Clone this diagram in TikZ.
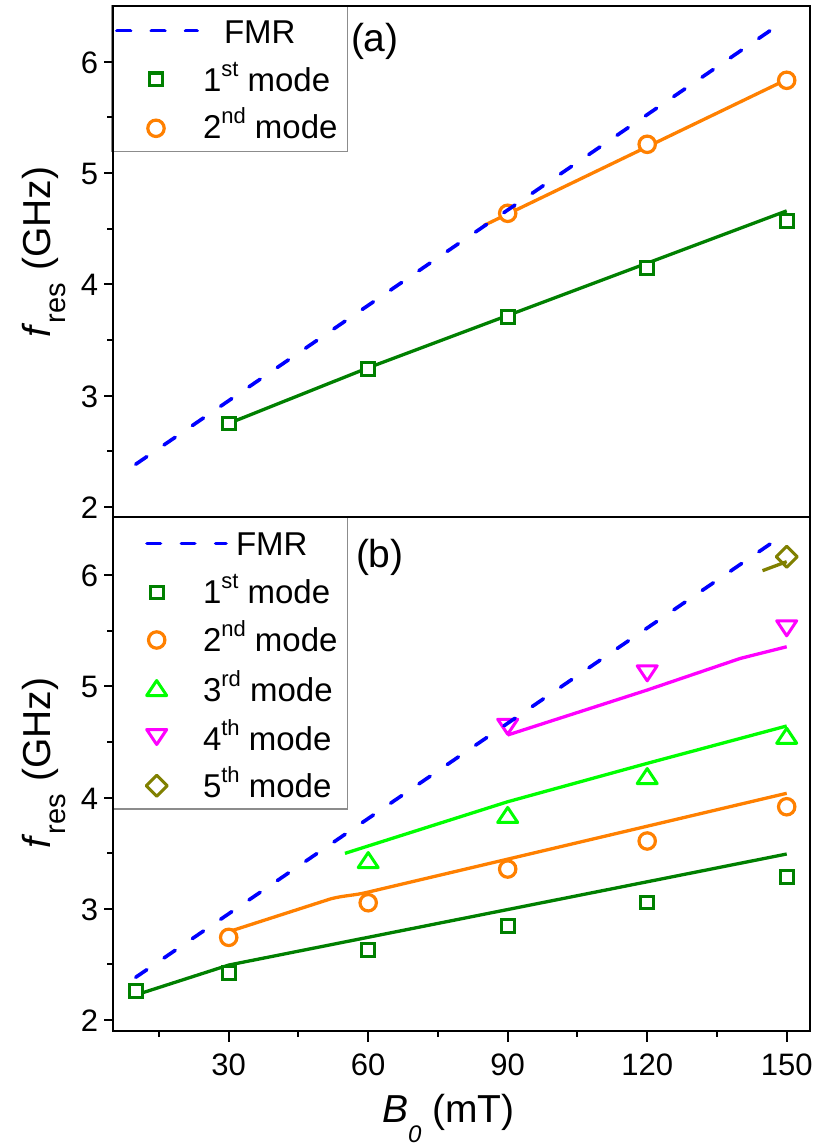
\documentclass[tikz,border=0pt]{standalone}
\usepackage{fontspec}
\setmainfont{Liberation Sans}
\definecolor{dkgreen}{RGB}{0,128,0}
\definecolor{orng}{RGB}{255,128,0}
\definecolor{limeg}{RGB}{0,255,0}
\definecolor{mgnt}{RGB}{255,0,255}
\definecolor{olv}{RGB}{128,128,0}
\definecolor{fmrblue}{RGB}{0,0,255}
\newcommand\supx[1]{\raisebox{15pt}{\fontsize{22}{22}\selectfont #1}}
\tikzset{
  fmrline/.style={fmrblue, line width=3.6pt, dash pattern=on 13.5pt off 20.8pt, line cap=round},
  fitline/.style={line width=3.3pt, line join=round},
  axisline/.style={line width=2.2pt, black},
  tickline/.style={line width=2pt, black},
  legbox/.style={draw=black!45, line width=1.3pt, fill=white},
  ticklab/.style={font=\fontsize{31}{31}\selectfont},
  legtext/.style={font=\fontsize{33}{33}\selectfont},
  axlab/.style={font=\fontsize{39}{39}\selectfont},
  msq/.pic={\draw[dkgreen, line width=3pt, fill=white] (-6.3pt,-6.3pt) rectangle (6.3pt,6.3pt);},
  mci/.pic={\draw[orng, line width=3.2pt, fill=white] (0pt,0pt) circle[radius=8.2pt];},
  mtu/.pic={\draw[limeg, line width=3pt, fill=white, line join=round] (-10pt,-7.5pt) -- (10pt,-7.5pt) -- (0pt,7.5pt) -- cycle;},
  mtd/.pic={\draw[mgnt, line width=3pt, fill=white, line join=round] (-10pt,7.5pt) -- (10pt,7.5pt) -- (0pt,-7.5pt) -- cycle;},
  mdi/.pic={\draw[olv, line width=3pt, line join=round] (0pt,10.5pt) -- (10.5pt,0pt) -- (0pt,-10.5pt) -- (-10.5pt,0pt) -- cycle;}
}
\begin{document}
\begin{tikzpicture}[x=1pt,y=-1pt, every node/.style={inner sep=0pt, outer sep=0pt}]
\useasboundingbox (0,0) rectangle (822,1148);
\fill[white] (0,0) rectangle (822,1148);

% ---------------- panel (a) data ----------------
\begin{scope}[shift={(89.2pt,-729.5pt)}, x=4.65pt, y=111.3pt]
  \draw[fitline, dkgreen] (30,2.75) -- (60,3.25) -- (90,3.72) -- (120,4.19) -- (150,4.66);
  \draw[fitline, orng] (84.8,4.527) -- (150,5.84);
  \foreach \b/\f in {30/2.751,60/3.24,90/3.706,120/4.146,150/4.571} {\pic at (\b,\f) {msq};}
  \foreach \b/\f in {90/4.638,120/5.258,150/5.833} {\pic at (\b,\f) {mci};}
  \draw[fmrline] (10,2.383) -- (150,6.381);
\end{scope}

% ---------------- panel (b) data ----------------
\begin{scope}[shift={(89.2pt,-1242.5pt)}, x=4.65pt, y=111.25pt]
  \draw[fitline, dkgreen] (10,2.225) -- (30,2.494) -- (150,3.492);
  \draw[fitline, orng] (30,2.794) -- (52,3.09) to[out=14,in=194] (60,3.15) -- (150,4.038);
  \draw[fitline, limeg] (55,3.498) -- (90,3.962) -- (120,4.307) -- (150,4.643);
  \draw[fitline, mgnt] (90,4.562) -- (120,4.966) -- (140,5.25) -- (150,5.355);
  \foreach \b/\f in {10/2.263,30/2.420,60/2.629,90/2.845,120/3.058,150/3.288} {\pic at (\b,\f) {msq};}
  \foreach \b/\f in {30/2.743,60/3.054,90/3.357,120/3.609,150/3.917} {\pic at (\b,\f) {mci};}
  \foreach \b/\f in {60/3.438,90/3.843,120/4.193,150/4.555} {\pic at (\b,\f) {mtu};}
  \foreach \b/\f in {90/4.636,120/5.116,150/5.521} {\pic at (\b,\f) {mtd};}
  \pic at (150,6.164) {mdi};
  \draw[fitline, olv] (144.8,6.039) -- (150,6.12);
  \draw[fmrline] (10,2.384) -- (150,6.380);
\end{scope}

% ---------------- legend (a) ----------------
\draw[legbox] (112,6) rectangle (347.7,151.7);
\draw[fmrline] (117,30.7) -- (197,30.7);
\node[legtext, anchor=base west] (la0) at (224,43.3) {FMR};
\pic at (156,79.3) {msq};
\node[legtext, anchor=base west] (la1) at (203,91) {1\supx{st} mode};
\pic at (156,128.3) {mci};
\node[legtext, anchor=base west] (la2) at (203,138.3) {2\supx{nd} mode};
\node[axlab, anchor=base west] (pa) at (351,52) {(a)};

% ---------------- legend (b) ----------------
\draw[legbox] (113,517) rectangle (347.7,809);
\draw[fmrline] (147,543.3) -- (226,543.3);
\node[legtext, anchor=base west] (lb0) at (236,555.7) {FMR};
\pic at (156.7,592.3) {msq};
\node[legtext, anchor=base west] (lb1) at (203,603.3) {1\supx{st} mode};
\pic at (156.7,640) {mci};
\node[legtext, anchor=base west] (lb2) at (203,651.7) {2\supx{nd} mode};
\pic at (156.7,688) {mtu};
\node[legtext, anchor=base west] (lb3) at (203,701.7) {3\supx{rd} mode};
\pic at (156.7,737) {mtd};
\node[legtext, anchor=base west] (lb4) at (203,750) {4\supx{th} mode};
\pic at (156.7,785.7) {mdi};
\node[legtext, anchor=base west] (lb5) at (203,797.3) {5\supx{th} mode};
\node[axlab, anchor=base west] (pb) at (356,567) {(b)};

% ---------------- frames ----------------
\draw[axisline] (113,6) rectangle (810,517);
\draw[axisline] (113,517) rectangle (810,1031);

% ---------------- y ticks (a) ----------------
\foreach \f in {2,...,6} {
  \pgfmathsetmacro\py{729.5-111.3*\f}
  \draw[tickline] (104,\py) -- (113,\py);
  \node[ticklab, anchor=base east] (ya\f) at (98,\py+11.5) {\f};
}
\foreach \f in {2.5,3.5,4.5,5.5} {
  \pgfmathsetmacro\py{729.5-111.3*\f}
  \draw[tickline] (107,\py) -- (113,\py);
}
% ---------------- y ticks (b) ----------------
\foreach \f in {2,...,6} {
  \pgfmathsetmacro\py{1242.5-111.25*\f}
  \draw[tickline] (104,\py) -- (113,\py);
  \node[ticklab, anchor=base east] (yb\f) at (98,\py+11.5) {\f};
}
\foreach \f in {2.5,3.5,4.5,5.5} {
  \pgfmathsetmacro\py{1242.5-111.25*\f}
  \draw[tickline] (107,\py) -- (113,\py);
}
% ---------------- x ticks ----------------
\foreach \b in {30,60,90,120,150} {
  \pgfmathsetmacro\px{89.2+4.65*\b}
  \draw[tickline] (\px,1031) -- (\px,1042);
  \node[ticklab, anchor=base] (xt\b) at (\px,1075) {\b};
}
\foreach \b in {15,45,75,105,135} {
  \pgfmathsetmacro\px{89.2+4.65*\b}
  \draw[tickline] (\px,1031) -- (\px,1037);
}

% ---------------- axis labels ----------------
\node[axlab, rotate=90, anchor=base] (yla) at (50,252) {\textit{f}\raisebox{-15pt}{\fontsize{29}{29}\selectfont res}\hspace{12pt}(GHz)};
\node[axlab, rotate=90, anchor=base] (ylb) at (50,763) {\textit{f}\raisebox{-15pt}{\fontsize{29}{29}\selectfont res}\hspace{12pt}(GHz)};
\node[axlab, anchor=base west] (xl) at (382,1122) {\textit{B}\raisebox{-20pt}{\fontsize{24}{24}\selectfont\textit{0}} (mT)};
\end{tikzpicture}
\end{document}
